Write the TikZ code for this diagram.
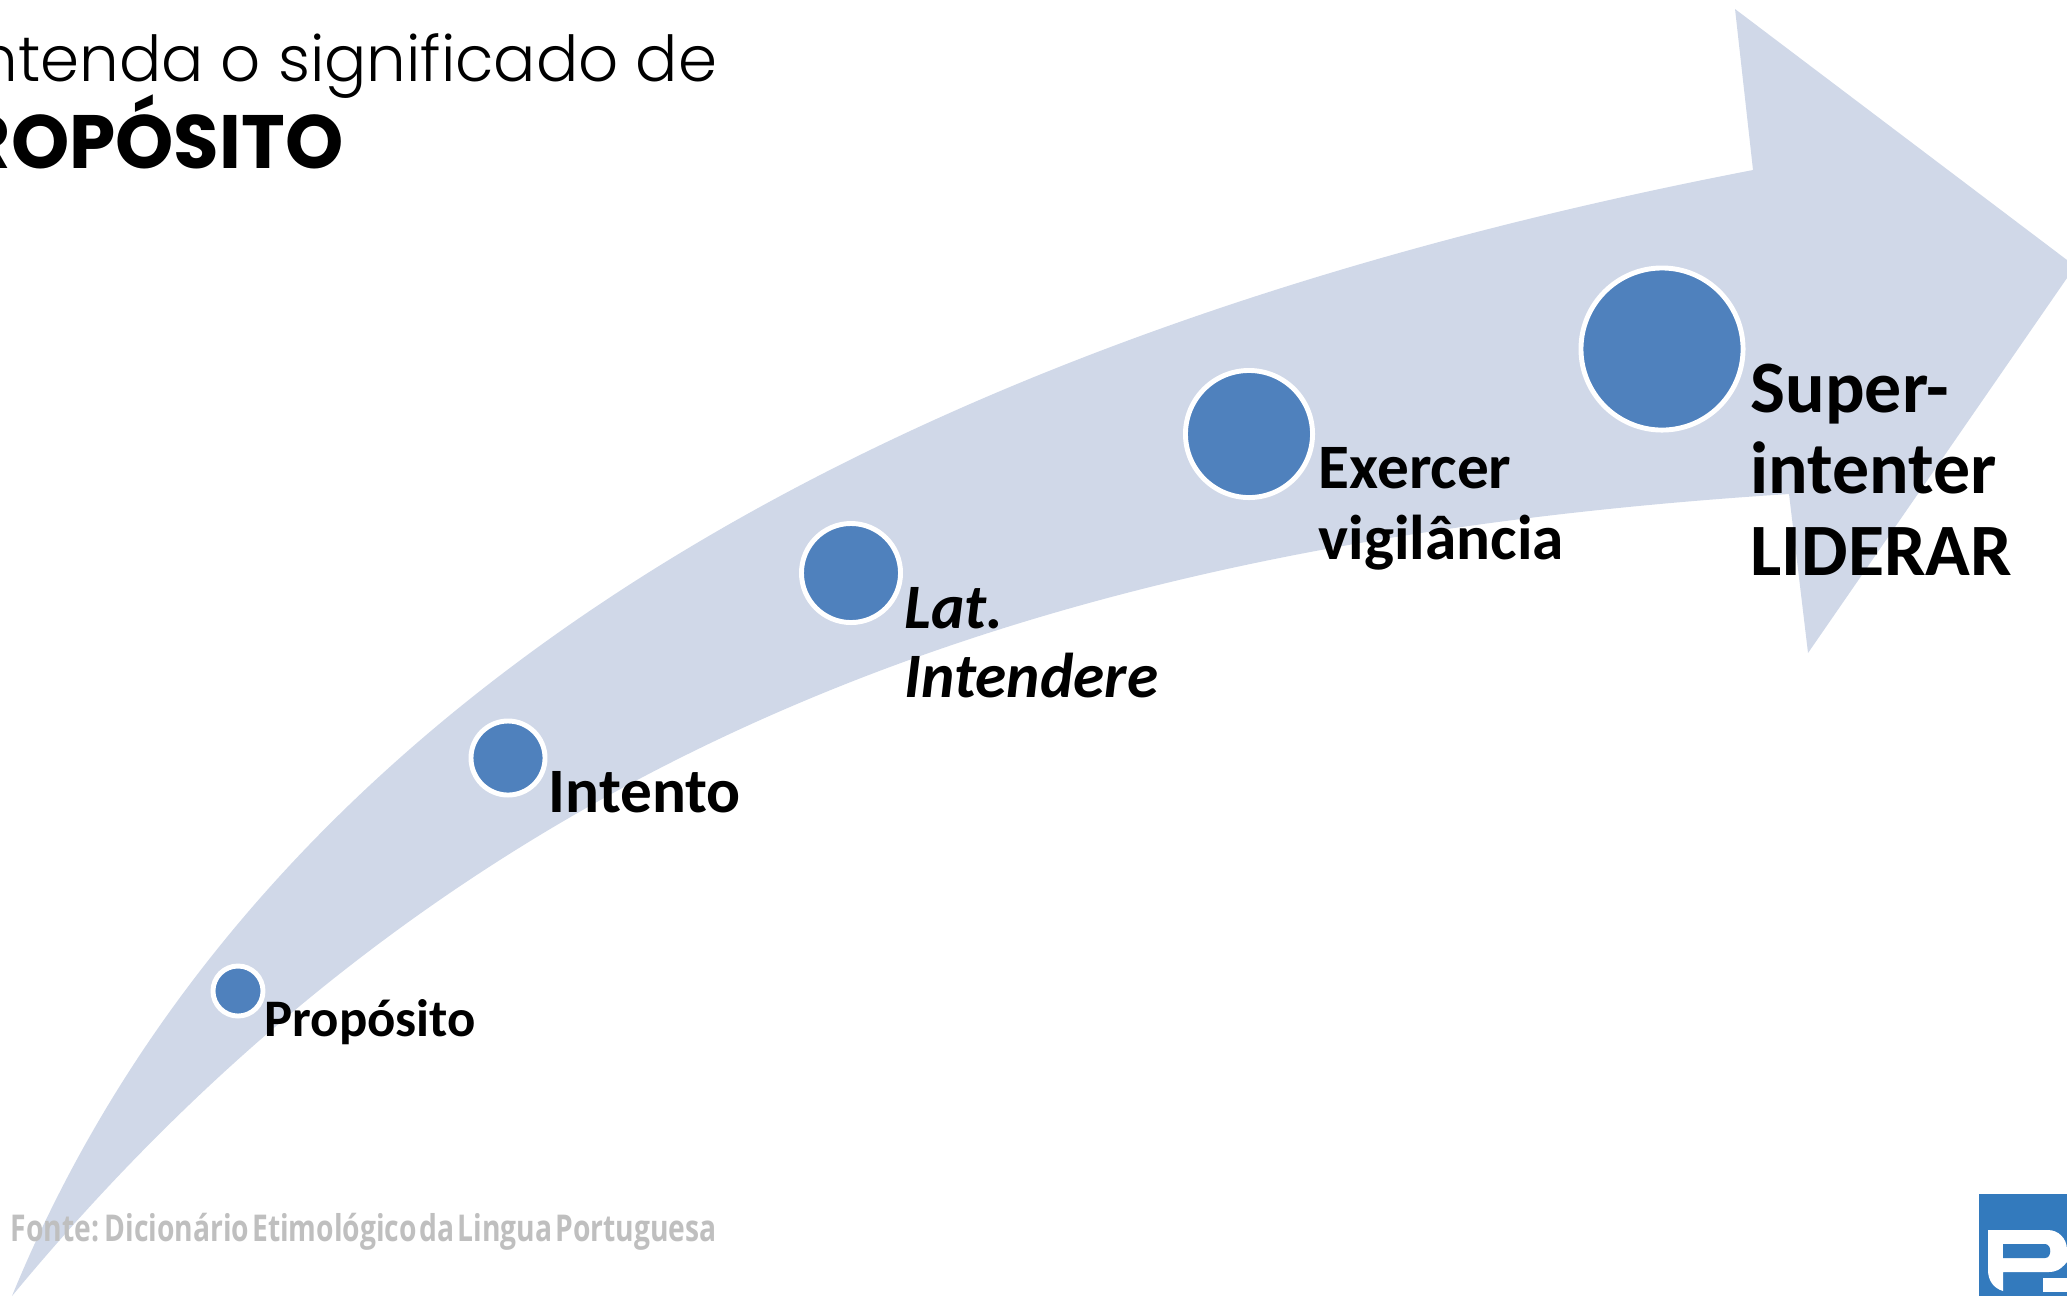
\documentclass[tikz,border=0pt]{standalone}
\usepackage{fontspec}
\setmainfont{Carlito}
\newfontfamily\titlefont[FakeStretch=0.99]{Poppins Light}
\newfontfamily\titlebold[FakeStretch=0.98]{Poppins}[BoldFont={Poppins Bold}]
\newfontfamily\srcfont[FakeStretch=0.765,WordSpace=0.4]{Open Sans}
\definecolor{arrowfill}{HTML}{D0D8E8}
\definecolor{dotblue}{HTML}{4F81BD}
\definecolor{logoblue}{HTML}{337ABD}
\definecolor{srcgray}{HTML}{BFBFBF}
\tikzset{
 dot/.style={circle,draw=white,fill=dotblue,line width=1.4pt,inner sep=0pt,minimum size=#1},
 lab/.style={anchor=base west,inner sep=0pt,font=\bfseries\fontsize{#1}{#1}\selectfont,text=black},
}
\begin{document}
\begin{tikzpicture}[x=0.01cm,y=-0.01cm]
\useasboundingbox (0,0) rectangle (2067,1296);
\clip (0,0) rectangle (2067,1296);
% arrow
\fill[arrowfill] (12,1296)
  .. controls (240,740) and (820,350) .. (1753,170)
  -- (1735,9) -- (2067,260) -- (2067,278) -- (1808,653) -- (1789,494)
  .. controls (1070,540) and (480,730) .. (12,1296) -- cycle;
% circles
\node[dot=0.50cm] (d1) at (238,991) {};
\node[dot=0.74cm] (d2) at (508,758) {};
\node[dot=0.99cm] (d3) at (851,573) {};
\node[dot=1.27cm] (d4) at (1249,434) {};
\node[dot=1.62cm] (d5) at (1662,349) {};
% labels
\node[lab=15] (l1) at (264,1036) {Propósito};
\node[lab=18] (l2) at (548,812) {Intento};
\node[lab=18] (l3a) at (904,628) {\itshape Lat.};
\node[lab=18] (l3b) at (904,697) {\itshape Intendere};
\node[lab=18] (l4a) at (1318,488) {Exercer};
\node[lab=18] (l4b) at (1318,559) {vigilância};
\node[lab=21] (l5a) at (1750,412) {Super-};
\node[lab=21] (l5b) at (1750,493) {intenter};
\node[lab=21] (l5c) at (1750,575) {LIDERAR};
% title
\node[anchor=base east,inner sep=0pt,font=\titlefont\fontsize{18}{18}\selectfont] (t1) at (718,81) {ntenda o significado de};
\node[anchor=base east,inner sep=0pt,font=\titlebold\bfseries\fontsize{21.5}{21.5}\selectfont] (t2) at (344,168) {ROPÓSITO};
% source
\node[anchor=base west,inner sep=0pt,text=srcgray,font=\srcfont\bfseries\fontsize{10.5}{10.5}\selectfont] (src) at (10,1241) {Fonte: Dicionário Etimológico da Lingua Portuguesa};
% logo
\fill[logoblue] (1979,1194) rectangle (2067,1296);
\fill[white] (1988,1230) -- (2048,1230) .. controls (2058,1230) and (2067,1238) .. (2067,1250)
  -- (2067,1262) .. controls (2060,1270) and (2056,1272) .. (2048,1272) -- (2003,1272) -- (2003,1291)
  .. controls (1993,1288) and (1988,1280) .. (1988,1270) -- cycle;
\fill[logoblue] (2003,1244) -- (2045,1244) .. controls (2052,1244) and (2052,1258) .. (2045,1258) -- (2003,1258) -- cycle;
\fill[white] (2043,1278) rectangle (2067,1292);
\end{tikzpicture}
\end{document}
